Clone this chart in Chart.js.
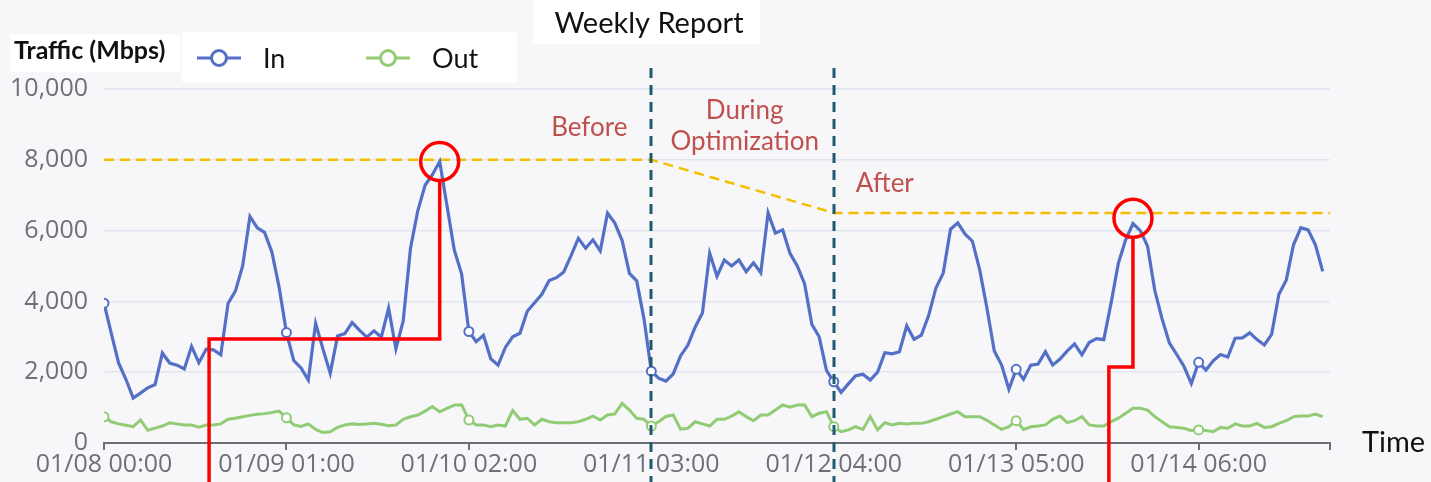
<!DOCTYPE html>
<html>
<head>
<meta charset="utf-8">
<script src="https://cdn.jsdelivr.net/npm/chart.js@4.4.1/dist/chart.umd.min.js"></script>
<style>
  html, body { margin: 0; padding: 0; background: #f7f7f9; }
  canvas { display: block; }
</style>
</head>
<body>
<canvas id="mycanvas" width="1431" height="482"></canvas>
<script>
// hourly samples, 01/08 00:00 -> 01/14 23:00
var hours = Array.from({ length: 168 }, function (_, i) { return i; });

var inTraffic = [
  3950, 3100, 2260, 1800, 1270, 1410, 1560, 1650, 2540, 2260, 2200, 2090, 2730, 2270, 2650, 2630, 2490, 3940, 4290, 5000, 6400, 6080, 5950, 5400,
  4400, 3120, 2330, 2120, 1780, 3380, 2660, 1970, 3020, 3090, 3400, 3190, 2990, 3170, 2990, 3810, 2660, 3450, 5500, 6560, 7280, 7580, 7950, 6700,
  5450, 4780, 3150, 2860, 3040, 2380, 2200, 2700, 3000, 3100, 3720, 3960, 4200, 4590, 4670, 4830, 5290, 5780, 5500, 5740, 5430, 6490, 6210, 5720,
  4790, 4580, 3500, 2030, 1830, 1750, 1950, 2460, 2760, 3270, 3670, 5360, 4710, 5170, 5000, 5170, 4840, 5090, 4810, 6500, 5930, 6020, 5360, 5000,
  4500, 3350, 3000, 2050, 1730, 1430, 1670, 1900, 1940, 1780, 2000, 2550, 2520, 2580, 3310, 2930, 3050, 3600, 4380, 4800, 6040, 6220, 5900, 5700,
  4890, 3800, 2600, 2200, 1520, 2080, 1800, 2200, 2230, 2580, 2200, 2370, 2600, 2800, 2490, 2840, 2950, 2920, 3950, 5080, 5740, 6200, 6000, 5560,
  4300, 3500, 2820, 2500, 2160, 1680, 2280, 2060, 2320, 2500, 2430, 2960, 2970, 3110, 2920, 2770, 3070, 4200, 4600, 5600, 6080, 6020, 5600, 4850
];

var outTraffic = [
  740, 600, 540, 500, 460, 650, 360, 420, 480, 570, 540, 510, 510, 450, 510, 510, 540, 670, 700, 740, 780, 810, 830, 860,
  900, 710, 510, 470, 540, 380, 300, 320, 440, 510, 540, 520, 540, 560, 530, 490, 510, 670, 740, 790, 900, 1030, 880, 980,
  1070, 1080, 650, 510, 510, 460, 510, 480, 920, 670, 700, 510, 670, 600, 575, 575, 575, 600, 670, 760, 650, 790, 820, 1120,
  930, 700, 670, 480, 600, 750, 790, 390, 415, 600, 540, 480, 670, 670, 760, 880, 745, 630, 790, 790, 930, 1075, 1010, 1075,
  1075, 745, 840, 885, 460, 320, 370, 460, 385, 745, 370, 575, 510, 555, 540, 555, 555, 600, 670, 745, 820, 885, 745, 745,
  745, 640, 510, 385, 460, 630, 385, 460, 480, 510, 670, 760, 575, 630, 745, 510, 480, 480, 600, 700, 840, 980, 980, 930,
  745, 600, 460, 440, 415, 350, 370, 350, 320, 440, 415, 540, 480, 480, 555, 440, 460, 555, 630, 745, 760, 760, 820, 745
];

// alert threshold: before / during / after optimization
var thresholdHours = [0, 75, 100, 168];
var thresholdValues = [8000, 8000, 6500, 6500];

var tickHours = [0, 25, 50, 75, 100, 125, 150, 168];
var tickLabels = ['01/08 00:00', '01/09 01:00', '01/10 02:00', '01/11 03:00', '01/12 04:00', '01/13 05:00', '01/14 06:00', ''];

var phaseHours = [75, 100];
var peakHours = [46, 141];

function pairs(xs, ys) {
  return xs.map(function (x, i) { return { x: x, y: ys[i] }; });
}

var overlay = {
  id: 'overlay',
  beforeDraw: function (chart) {
    var ctx = chart.ctx;
    ctx.save();
    ctx.fillStyle = '#f7f7f9';
    ctx.fillRect(0, 0, chart.width, chart.height);
    ctx.fillStyle = '#ffffff';
    ctx.fillRect(533, 0, 227, 44);
    ctx.fillRect(10, 34, 170, 38);
    ctx.fillRect(182, 32, 335, 50);
    ctx.restore();
  },
  afterDatasetsDraw: function (chart) {
    var ctx = chart.ctx;
    var xs = chart.scales.x, ys = chart.scales.y;
    var H = chart.height;
    ctx.save();

    // phase separators
    ctx.strokeStyle = '#1f5a70';
    ctx.lineWidth = 3;
    ctx.setLineDash([10, 7]);
    phaseHours.forEach(function (h) {
      var px = Math.round(xs.getPixelForValue(h));
      ctx.beginPath();
      ctx.moveTo(px, 68);
      ctx.lineTo(px, H);
      ctx.stroke();
    });
    ctx.setLineDash([]);

    // red callouts to the peaks
    ctx.strokeStyle = '#ff0000';
    ctx.lineWidth = 3.5;
    var r = 19;
    var callouts = [
      { from: 14.4, step: 2940, peak: peakHours[0], cy: 7950 },
      { from: 137.7, step: 2150, peak: peakHours[1], cy: 6350 }
    ];
    callouts.forEach(function (c) {
      var x0 = xs.getPixelForValue(c.from);
      var x1 = xs.getPixelForValue(c.peak);
      var yStep = ys.getPixelForValue(c.step);
      var yc = ys.getPixelForValue(c.cy);
      ctx.beginPath();
      ctx.moveTo(x0, H);
      ctx.lineTo(x0, yStep);
      ctx.lineTo(x1, yStep);
      ctx.lineTo(x1, yc + r);
      ctx.stroke();
      ctx.beginPath();
      ctx.arc(x1, yc, r, 0, Math.PI * 2);
      ctx.stroke();
    });

    // phase labels
    ctx.fillStyle = '#c0504d';
    ctx.font = '26px Lato';
    ctx.textAlign = 'center';
    ctx.textBaseline = 'middle';
    ctx.fillText('Before', xs.getPixelForValue(66.5), ys.getPixelForValue(8900));
    ctx.fillText('During', xs.getPixelForValue(87.8), ys.getPixelForValue(9400));
    ctx.fillText('Optimization', xs.getPixelForValue(87.8), ys.getPixelForValue(8500));
    ctx.fillText('After', xs.getPixelForValue(107), ys.getPixelForValue(7320));

    // title
    ctx.fillStyle = '#111111';
    ctx.font = '29px Lato';
    ctx.fillText('Weekly Report', 649, 24);

    // axis names
    ctx.textAlign = 'left';
    ctx.font = 'bold 25px Lato';
    ctx.fillText('Traffic (Mbps)', 14, 51);
    ctx.font = '29px Lato';
    ctx.fillText('Time', 1362, 443);

    // legend
    var items = [
      { label: 'In', color: '#5470c6', x: 197 },
      { label: 'Out', color: '#91cc75', x: 366 }
    ];
    items.forEach(function (it) {
      ctx.strokeStyle = it.color;
      ctx.lineWidth = 3;
      ctx.beginPath();
      ctx.moveTo(it.x, 58);
      ctx.lineTo(it.x + 44, 58);
      ctx.stroke();
      ctx.beginPath();
      ctx.arc(it.x + 22, 58, 7.5, 0, Math.PI * 2);
      ctx.fillStyle = '#ffffff';
      ctx.fill();
      ctx.stroke();
      ctx.fillStyle = '#111111';
      ctx.font = '27px Lato';
      ctx.fillText(it.label, it.x + 66, 59);
    });
    ctx.restore();
  }
};

function markerRadius(ctx) {
  return ctx.dataIndex % 25 === 0 ? 4.5 : 0;
}

var ctx = document.getElementById('mycanvas');
var trafficChart = new Chart(ctx, {
  type: 'line',
  data: {
    datasets: [
      {
        label: 'In',
        data: pairs(hours, inTraffic),
        borderColor: '#5470c6',
        backgroundColor: '#ffffff',
        borderWidth: 3.2,
        pointRadius: markerRadius,
        pointBorderWidth: 2,
        pointBackgroundColor: '#ffffff',
        pointBorderColor: '#5470c6',
        tension: 0,
        fill: false
      },
      {
        label: 'Out',
        data: pairs(hours, outTraffic),
        borderColor: '#91cc75',
        backgroundColor: '#ffffff',
        borderWidth: 3,
        pointRadius: markerRadius,
        pointBorderWidth: 2,
        pointBackgroundColor: '#ffffff',
        pointBorderColor: '#91cc75',
        tension: 0,
        fill: false
      },
      {
        label: 'Threshold',
        data: pairs(thresholdHours, thresholdValues),
        borderColor: '#f5bf00',
        borderWidth: 2.5,
        borderDash: [10, 6],
        pointRadius: 0,
        tension: 0,
        fill: false
      }
    ]
  },
  options: {
    responsive: false,
    animation: false,
    devicePixelRatio: 1,
    layout: { padding: { top: 89, right: 101, left: 0, bottom: 0 } },
    plugins: {
      legend: { display: false },
      title: { display: false },
      tooltip: { enabled: false }
    },
    scales: {
      x: {
        type: 'linear',
        min: 0,
        max: 168,
        afterBuildTicks: function (scale) {
          scale.ticks = tickHours.map(function (h) { return { value: h }; });
        },
        afterFit: function (scale) { scale.height = 39; },
        ticks: {
          autoSkip: false,
          maxRotation: 0,
          padding: 0,
          color: '#6e7079',
          font: { family: 'Open Sans', size: 25 },
          callback: function (value) {
            var k = tickHours.indexOf(value);
            return k >= 0 ? tickLabels[k] : '';
          }
        },
        grid: {
          drawOnChartArea: false,
          drawTicks: true,
          tickLength: 7,
          color: '#6e7079',
          lineWidth: 2
        },
        border: { color: '#6e7079', width: 2 }
      },
      y: {
        min: 0,
        max: 10000,
        afterFit: function (scale) { scale.width = 104; },
        ticks: {
          stepSize: 2000,
          padding: 16,
          color: '#6e7079',
          font: { family: 'Open Sans', size: 25 },
          callback: function (value) { return value.toLocaleString('en-US'); }
        },
        grid: { color: '#e0e6f1', lineWidth: 1.5, drawTicks: false },
        border: { display: false }
      }
    }
  },
  plugins: [overlay]
});
</script>
</body>
</html>
